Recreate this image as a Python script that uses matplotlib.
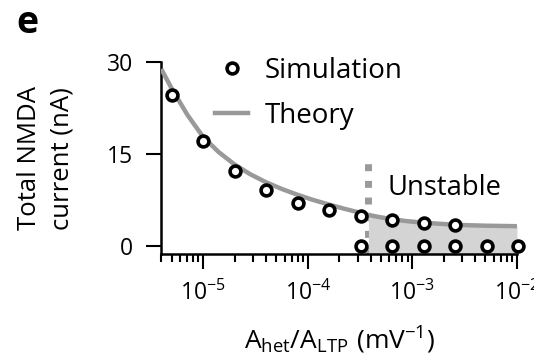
import numpy as np
import matplotlib
matplotlib.use('Agg')
from matplotlib import pyplot as plt
from matplotlib.lines import Line2D

plt.rcParams['font.family'] = ['Open Sans', 'DejaVu Sans']
plt.rcParams['mathtext.fontset'] = 'custom'
plt.rcParams['mathtext.rm'] = 'Open Sans'
plt.rcParams['mathtext.it'] = 'Open Sans'
plt.rcParams['mathtext.default'] = 'regular'

# simulation (A_het/A_LTP in mV^-1, total NMDA current in nA)
sim_x = [5e-6, 1e-5, 2e-5, 4e-5, 8e-5, 1.6e-4, 3.2e-4, 6.4e-4, 1.28e-3, 2.56e-3]
sim_y = [24.6, 17.1, 12.2, 9.07, 7.05, 5.79, 4.87, 4.15, 3.77, 3.33]
# runs that collapsed to zero current
zero_x = [3.2e-4, 6.4e-4, 1.28e-3, 2.56e-3, 5.12e-3, 1.024e-2]
zero_y = [0, 0, 0, 0, 0, 0]

# theory curve, log10 of A_het/A_LTP
theory_logx = [-5.40, -5.30, -5.15, -5.00, -4.85, -4.70, -4.55, -4.40, -4.25,
               -4.10, -3.95, -3.80, -3.65, -3.50, -3.42, -3.35, -3.20, -3.05,
               -2.90, -2.75, -2.60, -2.45, -2.30, -2.00]
theory_y = [28.9, 25.7, 21.4, 17.8, 15.3, 13.3, 11.7, 10.4, 9.3,
            8.35, 7.5, 6.75, 6.05, 5.4, 5.05, 4.8, 4.35, 4.02,
            3.78, 3.6, 3.45, 3.35, 3.28, 3.2]

x_unstable = 10 ** -3.42
dash_top = 13.8

theory_x = 10 ** np.array(theory_logx)
theory_y = np.array(theory_y)

fig = plt.figure(figsize=(5.34, 3.57), dpi=100)
ax = fig.add_axes([0.3024, 0.2885, 0.6657, 0.537])
ybot = -1.35

# unstable region
ax.plot([x_unstable, x_unstable], [ybot, dash_top], color='#9a9a9a', lw=5,
        dashes=(1, 1.4), solid_capstyle='butt', zorder=1)
mask = theory_x >= x_unstable
ax.fill_between(theory_x[mask], ybot, theory_y[mask], color='#d4d4d4', lw=0, zorder=2)

ax.plot(theory_x, theory_y, color='#999999', lw=3.2, solid_capstyle='butt', zorder=3)
ax.plot(sim_x, sim_y, 'o', ms=7.8, mfc='white', mec='black', mew=2.6, zorder=4, clip_on=False)
ax.plot(zero_x, zero_y, 'o', ms=7.8, mfc='white', mec='black', mew=2.6, zorder=4, clip_on=False)

ax.set_xscale('log')
ax.set_xlim(4e-6, 1e-2)
ax.set_ylim(ybot, 30)
ax.set_yticks([0, 15, 30])
ax.set_xticks([1e-5, 1e-4, 1e-3, 1e-2])
for s in ['top', 'right']:
    ax.spines[s].set_visible(False)
for s in ['left', 'bottom']:
    ax.spines[s].set_linewidth(1.8)
ax.tick_params(which='major', length=11, width=1.5, labelsize=16.5)
ax.tick_params(which='minor', length=6, width=1.5)
ax.tick_params(axis='y', pad=9.5)
ax.tick_params(axis='x', pad=8)

ax.set_ylabel('Total NMDA\ncurrent (nA)', fontsize=18.5, labelpad=23, linespacing=1.4)
ax.set_xlabel(r'$A_{het}/A_{LTP}\ (mV^{-1})$', fontsize=19, labelpad=14)

ax.text(5.85e-4, 8.3, 'Unstable', fontsize=19.7, ha='left', va='baseline')

handles = [Line2D([], [], ls='none', marker='o', ms=7.8, mfc='white', mec='black', mew=2.6),
           Line2D([], [], color='#999999', lw=3.2)]
ax.legend(handles, ['Simulation', 'Theory'], loc='upper left', frameon=False,
          fontsize=20, handlelength=1.2, handletextpad=0.6, labelspacing=0.6,
          borderpad=0, borderaxespad=0,
          bbox_to_anchor=(215 / 534, 1 - 57 / 357), bbox_transform=fig.transFigure)

fig.text(16 / 534, 1 - 33 / 357, 'e', fontsize=27, fontweight='bold', va='baseline', ha='left')

fig.savefig('out.png', dpi=100)
